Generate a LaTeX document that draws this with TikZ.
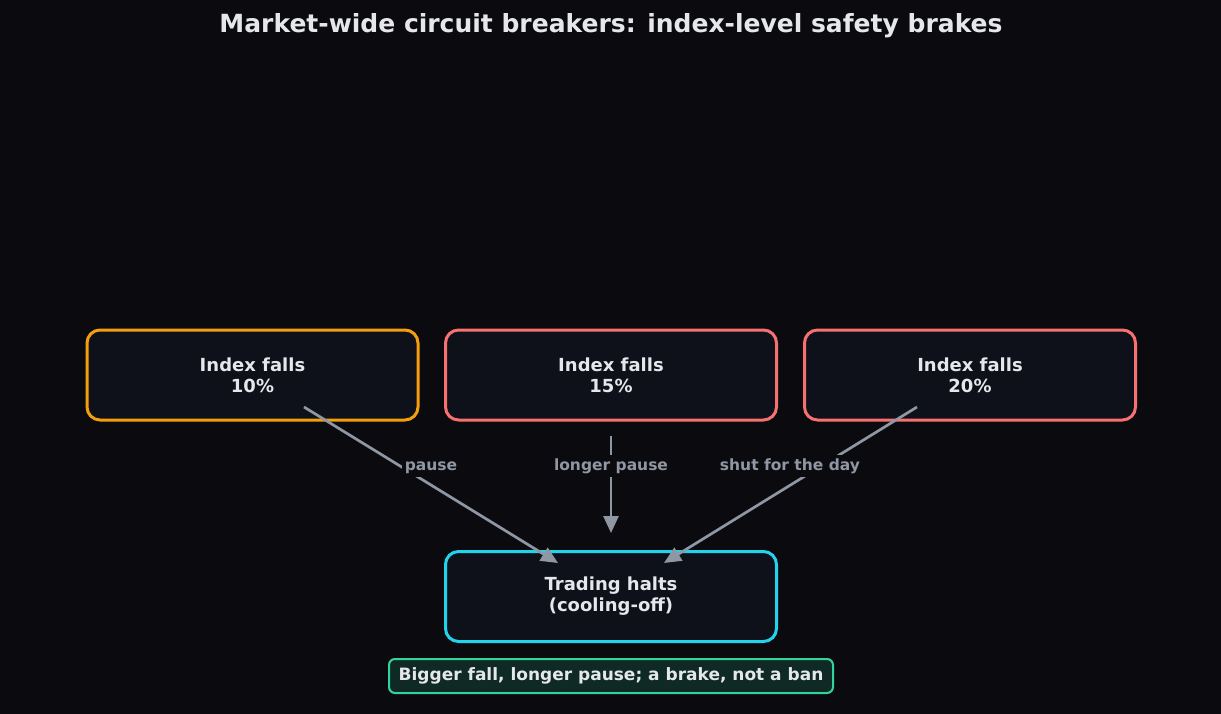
\documentclass[tikz,border=0pt]{standalone}
\usepackage{fontspec}
\setmainfont{DejaVu Sans}
\usetikzlibrary{arrows.meta}
\definecolor{bg}{HTML}{0B0B0F}
\definecolor{boxfill}{HTML}{0E111A}
\definecolor{orangeC}{HTML}{F59E0B}
\definecolor{redC}{HTML}{F87171}
\definecolor{cyanC}{HTML}{22D3EE}
\definecolor{greenC}{HTML}{34D399}
\definecolor{noteFill}{HTML}{0F2A24}
\definecolor{arrowC}{HTML}{8E97A3}
\definecolor{txt}{HTML}{E5E7EB}
\tikzset{
  box/.style={draw, line width=3pt, fill=boxfill, rounded corners=13pt,
    minimum width=331pt, minimum height=90pt, align=center,
    font=\fontsize{18}{21}\selectfont\bfseries, text=txt},
  conn/.style={draw=arrowC, line width=2.7pt,
    -{Triangle[length=17pt,width=15pt]}},
  lbl/.style={fill=bg, text=arrowC, inner sep=3pt, text height=12pt, text depth=3.5pt,
    font=\fontsize{15.5}{17}\selectfont\bfseries},
}
\begin{document}
\begin{tikzpicture}[x=1pt,y=-1pt]
\fill[bg] (0,0) rectangle (1221,714);
\useasboundingbox (0,0) rectangle (1221,714);
\node[text=txt, font=\fontsize{25}{28}\selectfont\bfseries] (title) at (611,26) {Market-wide circuit breakers: index-level safety brakes};
\node[box, draw=orangeC] (b1) at (252.5,375) {Index falls\\10\%};
\node[box, draw=redC] (b2) at (611,375) {Index falls\\15\%};
\node[box, draw=redC] (b3) at (970,375) {Index falls\\20\%};
\node[box, draw=cyanC] (halt) at (611,596.5) {Trading halts\\(cooling-off)};
\coordinate (s1) at (304,407);
\coordinate (e1) at (558,563);
\coordinate (s2) at (611,436);
\coordinate (e2) at (611,533);
\coordinate (s3) at (917,407);
\coordinate (e3) at (664,563);
\draw[conn] (s1) -- (e1);
\draw[conn] (s2) -- (e2);
\draw[conn] (s3) -- (e3);
\node[lbl] (l1) at (431,466) {pause};
\node[lbl] (l2) at (611,466) {longer pause};
\node[lbl] (l3) at (790,466) {shut for the day};
\node[draw=greenC, line width=2pt, fill=noteFill, rounded corners=6pt, text=txt,
  minimum width=444pt, minimum height=34pt, text height=12.5pt, text depth=3.5pt,
  font=\fontsize{17}{19}\selectfont\bfseries] (note) at (611,676) {Bigger fall, longer pause; a brake, not a ban};
\end{tikzpicture}
\end{document}
